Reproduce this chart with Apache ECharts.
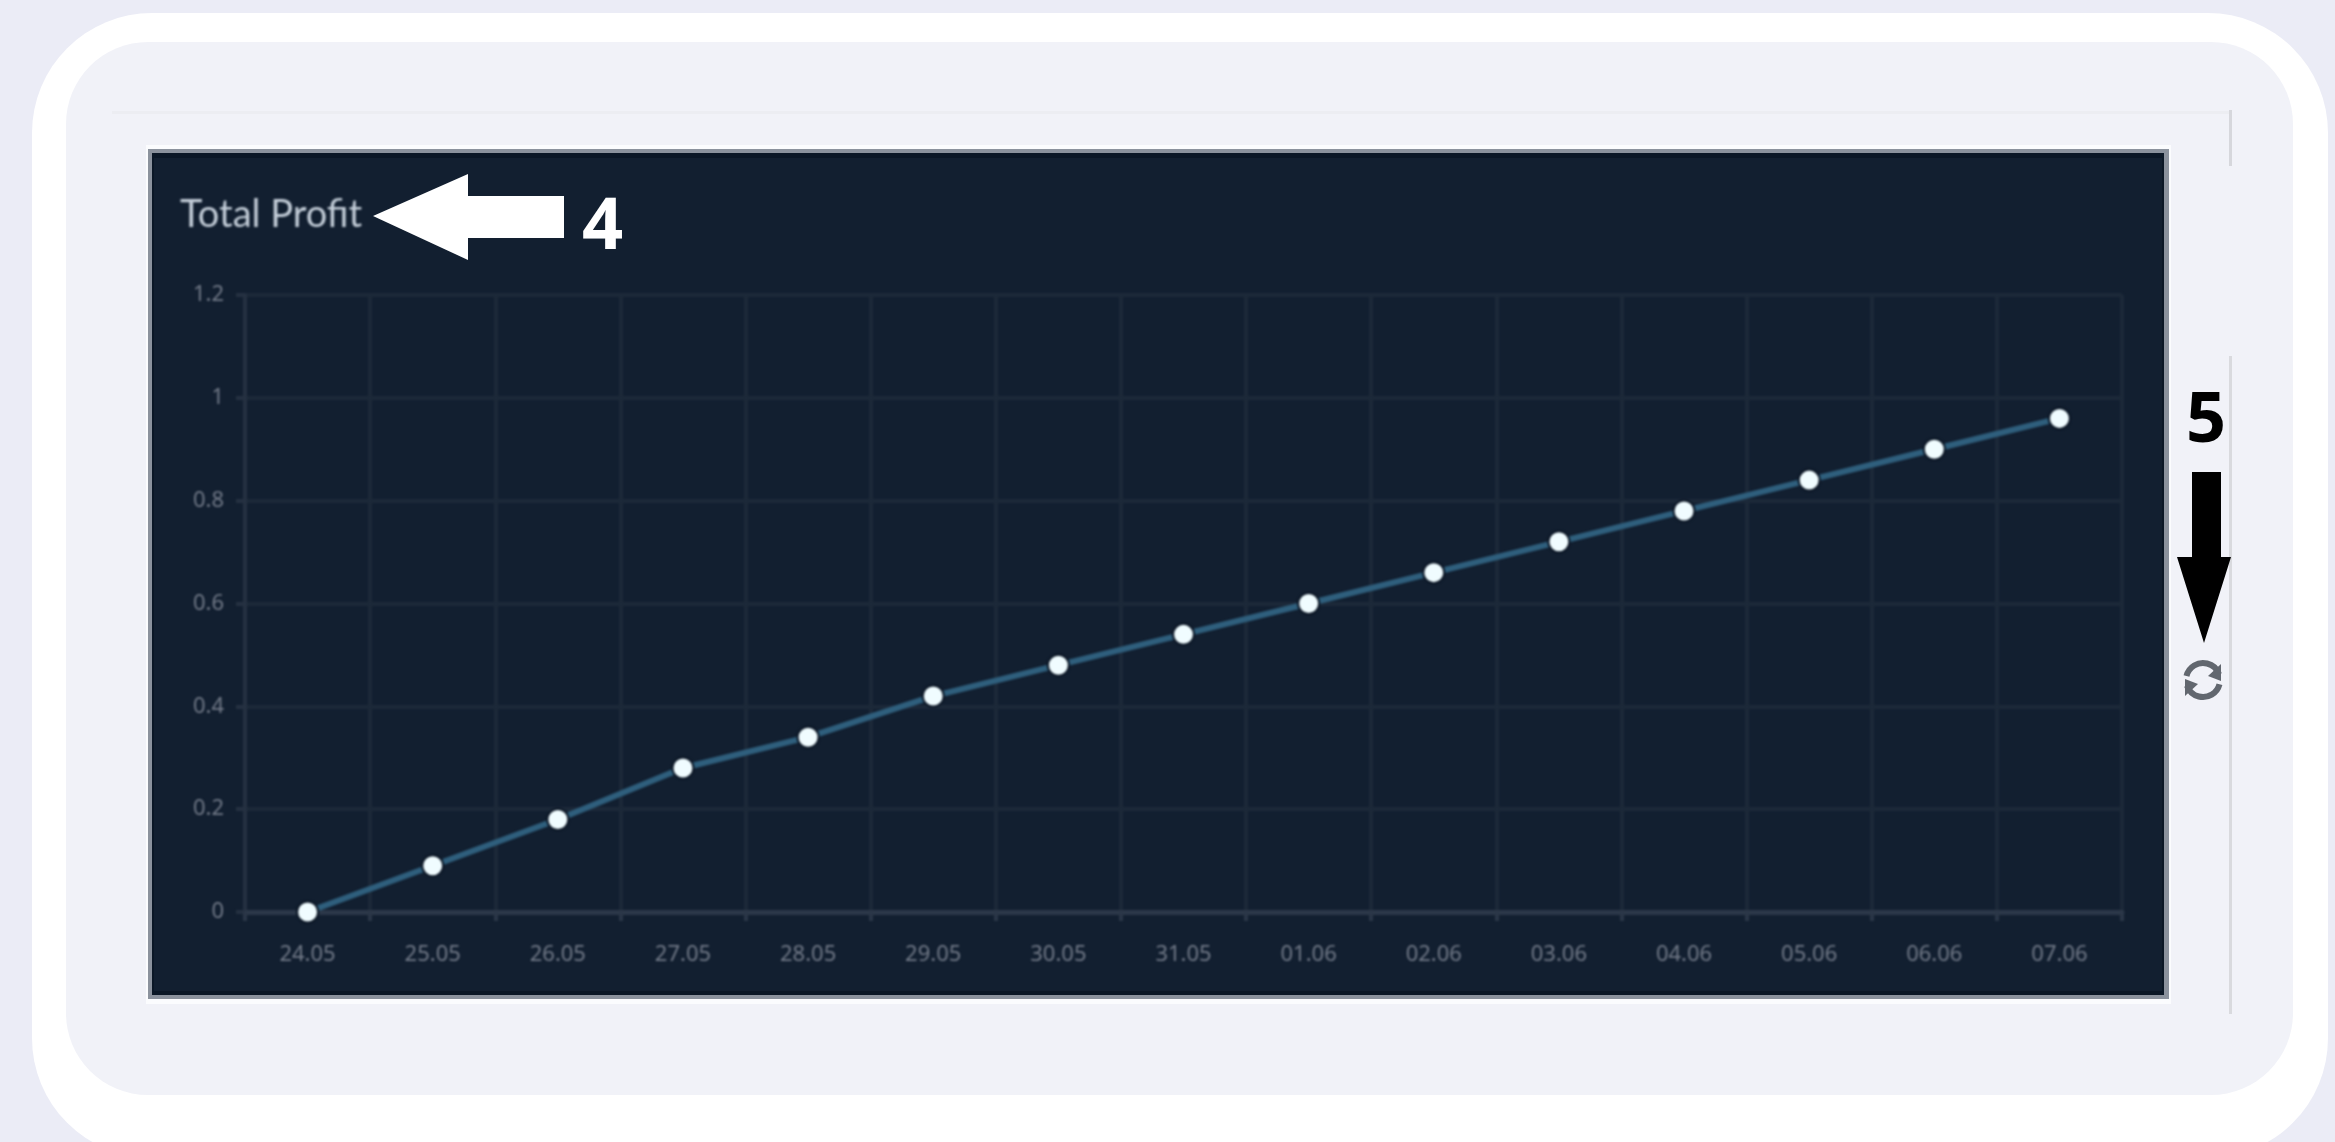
<!DOCTYPE html>
<html><head><meta charset="utf-8">
<script src="https://cdn.jsdelivr.net/npm/echarts@6/dist/echarts.min.js"></script>
<style>
html,body{margin:0;padding:0;width:2335px;height:1142px;overflow:hidden;background:#ebecf6;}
.b{position:absolute;box-sizing:border-box;}
#chart{position:absolute;left:0;top:0;width:2335px;height:1142px;filter:blur(1.2px);}
#notes{position:absolute;left:0;top:0;width:2335px;height:1142px;}
</style></head><body>
<div class="b" style="left:32px;top:13px;width:2296px;height:1145px;border-radius:120px;background:#fff"></div>
<div class="b" style="left:66px;top:42px;width:2227px;height:1053px;border-radius:82px;background:#f1f2f8"></div>
<div class="b" style="left:112px;top:111px;width:2118px;height:3px;background:#ecedf2"></div>
<div class="b" style="left:2229px;top:110px;width:3px;height:56px;background:#d6d7dc"></div>
<div class="b" style="left:2229px;top:356px;width:3px;height:658px;background:#d9dade"></div>
<div class="b" style="left:146px;top:145px;width:2025px;height:859px;background:#fbfcfe"></div>
<div class="b" style="left:148px;top:149px;width:2021px;height:850px;background:#8b929d"></div>
<div class="b" style="left:152px;top:153px;width:2012px;height:842px;background:#0b1726"></div>
<div class="b" style="left:154px;top:158px;width:2008px;height:833px;background:#121f30"></div>
<div id="chart"></div>
<div id="notes"></div>
<script>
const categories = ['24.05','25.05','26.05','27.05','28.05','29.05','30.05','31.05','01.06','02.06','03.06','04.06','05.06','06.06','07.06'];
const profit = [0,0.09,0.18,0.28,0.34,0.42,0.48,0.54,0.6,0.66,0.72,0.78,0.84,0.9,0.96];
const yTicks = {min:0,max:1.2,interval:0.2};
const chartTitle = 'Total Profit';
const chart = echarts.init(document.getElementById('chart'),null,{renderer:'canvas'});
const notes = echarts.init(document.getElementById('notes'),null,{renderer:'canvas'});
const black='#000', white='#fff', icon='#62676f';
chart.setOption({
  backgroundColor:'transparent',
  animation:false,
  title:{text:chartTitle,left:175,top:191,textStyle:{color:'#c3cdd8',fontSize:38,fontWeight:'normal',fontFamily:'Lato'}},
  grid:{left:245,right:213,top:295,bottom:230,containLabel:false},
  xAxis:{type:'category',data:categories,boundaryGap:true,
    axisLine:{lineStyle:{color:'#2c3849',width:5}},
    axisTick:{show:true,length:9,lineStyle:{color:'#2b3748',width:4}},
    axisLabel:{color:'#727a88',fontSize:22,margin:32,fontFamily:'Noto Sans'},
    splitLine:{show:true,lineStyle:{color:'#1c2939',width:4}}},
  yAxis:{type:'value',min:yTicks.min,max:yTicks.max,interval:yTicks.interval,
    axisLine:{show:true,lineStyle:{color:'#253142',width:4}},
    axisTick:{show:true,length:9,lineStyle:{color:'#253142',width:4}},
    axisLabel:{color:'#727a88',fontSize:22,margin:21,fontFamily:'Noto Sans'},
    splitLine:{show:true,lineStyle:{color:'#1c2939',width:4}}},
  series:[{type:'line',data:profit,smooth:false,symbol:'circle',symbolSize:21,showSymbol:true,clip:false,
    lineStyle:{color:'#2f5f7d',width:6},
    itemStyle:{color:'#f0fcff',borderColor:'#0a1524',borderWidth:2}}]
});
notes.setOption({
  backgroundColor:'transparent',
  animation:false,
  graphic:[
    {type:'polygon',z:100,shape:{points:[[373,216],[468,174],[468,196],[564,196],[564,238],[468,238],[468,260]]},style:{fill:white}},
    {type:'text',z:100,left:582,top:192,style:{text:'4',fill:white,font:'bold 72px "Open Sans"'}},
    {type:'text',z:100,left:2186,top:387,style:{text:'5',fill:black,font:'bold 70px "Open Sans"'}},
    {type:'polygon',z:100,shape:{points:[[2192,472],[2221,472],[2221,557],[2231,557],[2204,643],[2177,557],[2192,557]]},style:{fill:black}},
    {type:'arc',z:100,shape:{cx:2203,cy:680,r:17,startAngle:-2.9,endAngle:-0.35,clockwise:true},style:{stroke:icon,fill:'none',lineWidth:6}},
    {type:'arc',z:100,shape:{cx:2203,cy:680,r:17,startAngle:0.25,endAngle:2.8,clockwise:true},style:{stroke:icon,fill:'none',lineWidth:6}},
    {type:'polygon',z:100,shape:{points:[[2221,664],[2221,681],[2208,676]]},style:{fill:icon}},
    {type:'polygon',z:100,shape:{points:[[2185,696],[2185,679],[2198,684]]},style:{fill:icon}}
  ]
});
</script></body></html>
